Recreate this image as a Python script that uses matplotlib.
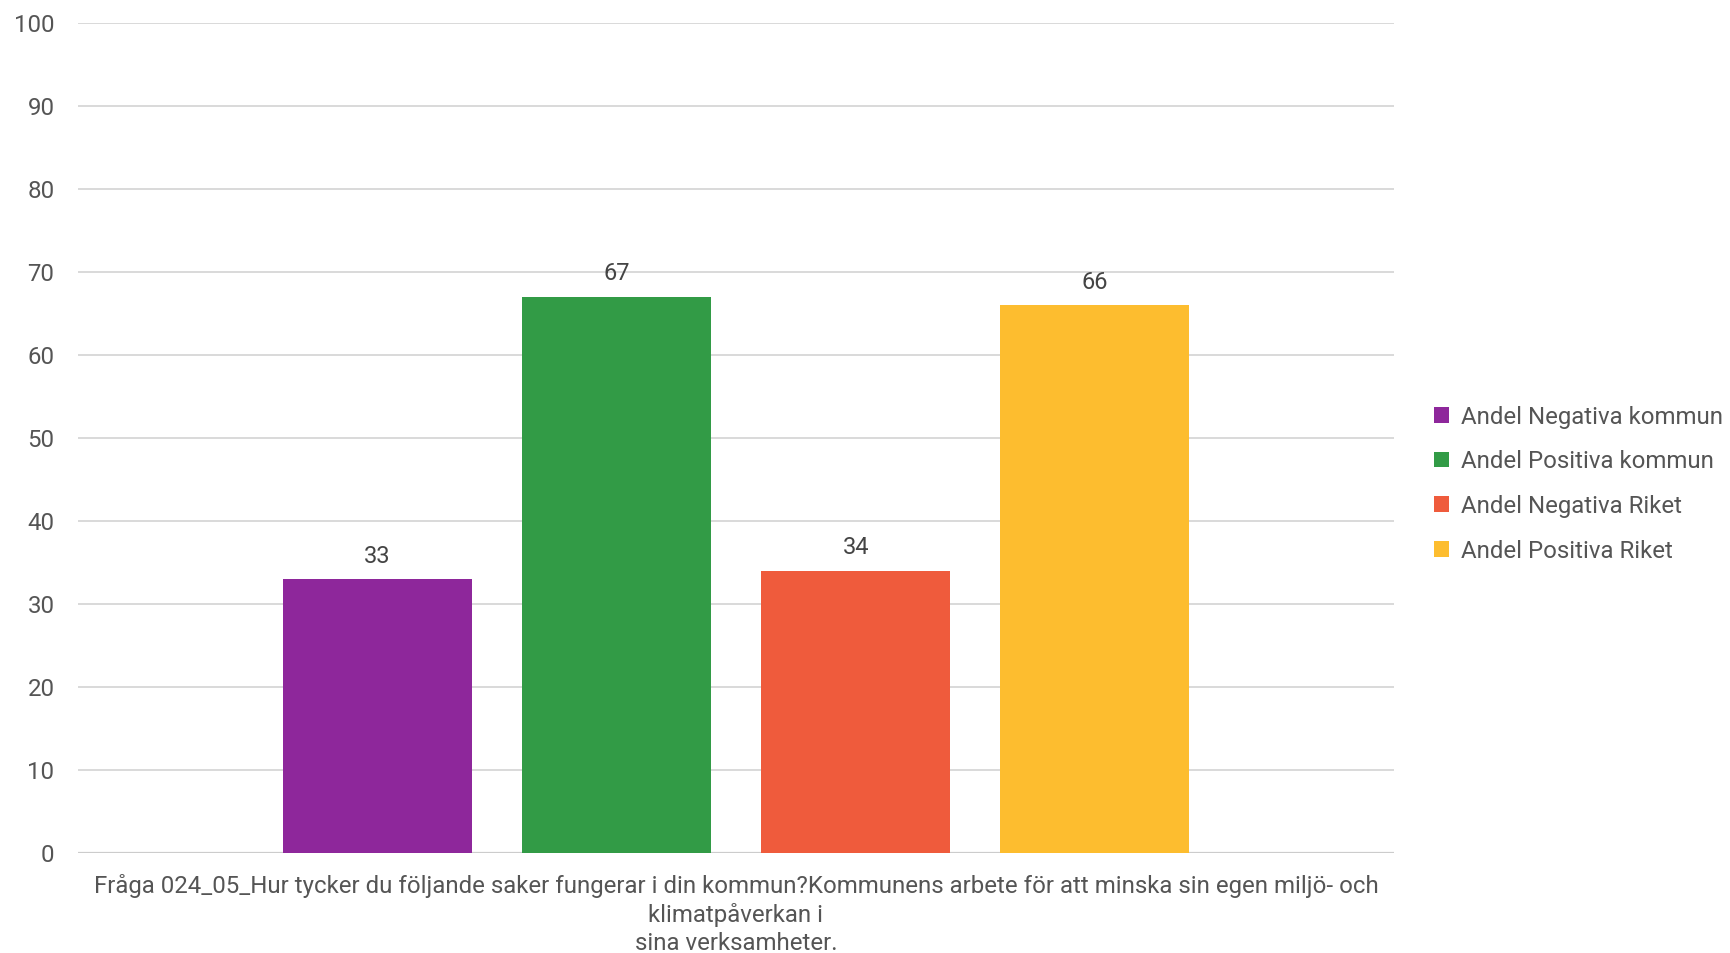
import matplotlib
matplotlib.use("Agg")
import matplotlib.pyplot as plt
from matplotlib.patches import Patch

plt.rcParams['font.family'] = ['Roboto', 'DejaVu Sans']

series = ["Andel Negativa kommun", "Andel Positiva kommun", "Andel Negativa Riket", "Andel Positiva Riket"]
values = [33, 67, 34, 66]
colors = ["#8e279b", "#329b46", "#ef5b3c", "#fdbd2f"]
category = "Fråga 024_05_Hur tycker du följande saker fungerar i din kommun?Kommunens arbete för att minska sin egen miljö- och\nklimatpåverkan i\nsina verksamheter."
yticks = [0, 10, 20, 30, 40, 50, 60, 70, 80, 90, 100]

txt = "#555555"
W, H = 1730, 953
fig = plt.figure(figsize=(W/100, H/100 + 0.004), dpi=100)
ax = fig.add_axes([78/W, 1-853/H, (1394-78)/W, (853-23)/H])

xs = list(range(len(values)))
ax.bar(xs, values, width=0.79, color=colors, zorder=3)
for x, v in zip(xs, values):
    ax.annotate(f"{v}", (x, v), xytext=(0, 8.5), textcoords="offset points",
                ha="center", va="bottom", fontsize=17, color="#444444")

ax.set_xlim(-1.25, 4.25)
ax.set_ylim(0, 100)
ax.set_yticks(yticks)
ax.set_yticklabels([str(t) for t in yticks])
ax.tick_params(axis='y', length=0, pad=17, labelsize=17.3, labelcolor=txt)
ax.set_xticks([])
ax.grid(axis='y', color="#d9d9d9", linewidth=1.4, zorder=0)
for s in ax.spines.values():
    s.set_visible(False)
ax.axhline(0, color="#cccccc", linewidth=1.6, zorder=2)

fig.text(736/W, 1-874/H, category, ha="center", va="top", fontsize=17.3,
         color=txt, linespacing=1.25)

handles = [Patch(facecolor=c, edgecolor='none') for c in colors]
fig.legend(handles, series, loc="center left", bbox_to_anchor=(1434/W, 1-484/H),
           frameon=False, fontsize=17.3, labelcolor=txt, handlelength=0.62, handleheight=0.62,
           handletextpad=0.5, labelspacing=0.9, borderpad=0, borderaxespad=0)

fig.savefig("out.png", dpi=100, facecolor="white")
